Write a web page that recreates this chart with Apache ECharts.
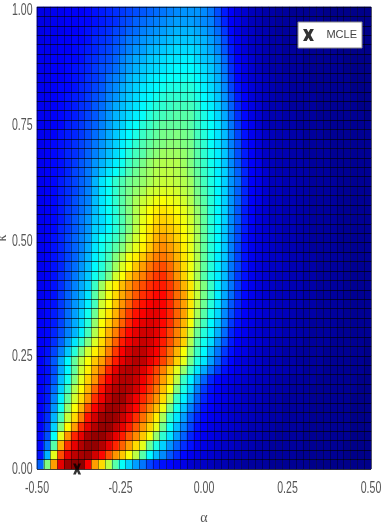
<!DOCTYPE html>
<html><head><meta charset="utf-8">
<style>html,body{margin:0;padding:0;background:#fff}#c{width:381px;height:523px}</style>
<script src="https://cdn.jsdelivr.net/npm/echarts@6/dist/echarts.min.js"></script>
</head><body><div id="c"></div>
<script>
const alphaRange = [-0.5, 0.5];
const kappaRange = [0, 1];
const alphaTicks = [-0.5, -0.25, 0, 0.25, 0.5];
const kappaTicks = [0, 0.25, 0.5, 0.75, 1];
const tickStep = 0.25;
const mcle = [[-0.38, 0]];
// likelihood surface, bottom row (kappa near 0) first; values 0-100
const surface = [
[22,50,72,90,97,99,99,88,72,66,56,46,38,33,28,24,19,16,14,13,11,10,8,7,7,6,5,5,4,4,3,3,3,3,2,2,2,2,2,2,1,1,1,1,1,1,1,1,1],
[14,30,60,80,90,94,96,97,92,87,80,73,68,62,56,46,37,31,26,21,17,13,11,10,9,8,7,6,6,5,5,4,4,4,3,3,3,3,2,2,2,2,2,2,2,1,1,1,1],
[13,24,46,70,83,90,95,98,98,95,90,84,78,72,66,60,48,40,33,27,22,17,14,11,10,9,8,7,7,6,5,5,4,4,3,3,3,3,3,2,2,2,2,2,2,1,1,1,1],
[13,20,38,60,73,84,90,96,98,98,95,90,85,79,74,68,62,52,42,35,28,22,16,13,11,10,9,8,7,6,6,5,5,4,4,3,3,3,3,2,2,2,2,2,2,2,1,1,1],
[12,18,33,50,63,72,83,90,95,98,98,94,90,85,79,73,67,60,48,38,31,25,19,14,12,10,9,8,8,7,6,5,5,4,4,3,3,3,3,2,2,2,2,2,2,2,1,1,1],
[12,17,30,44,57,66,75,86,92,97,98,97,93,89,83,77,71,64,54,42,35,28,21,16,13,11,10,9,8,7,6,6,5,5,4,4,3,3,3,3,2,2,2,2,2,2,1,1,1],
[12,16,27,39,52,62,70,80,88,93,97,97,95,91,87,81,75,69,61,49,39,32,25,19,14,12,10,9,8,7,7,6,5,5,4,4,3,3,3,3,2,2,2,2,2,2,1,1,1],
[12,15,25,36,47,58,66,73,83,89,94,97,97,93,89,84,79,73,66,56,43,36,29,22,16,13,11,10,9,8,7,6,6,5,4,4,3,3,3,3,2,2,2,2,2,2,1,1,1],
[12,15,23,33,43,55,63,70,78,86,92,95,96,95,92,87,82,76,69,62,50,40,33,25,18,14,12,10,9,8,7,7,6,5,5,4,4,3,3,3,2,2,2,2,2,2,2,1,1],
[12,14,21,31,39,50,60,67,73,82,88,93,95,95,93,89,84,79,72,66,56,43,36,29,22,16,13,11,10,9,8,7,6,6,5,4,4,3,3,3,3,2,2,2,2,2,2,1,1],
[12,14,20,29,37,47,58,64,71,76,84,90,94,95,94,91,86,81,75,68,60,52,43,35,29,23,18,14,12,10,9,8,7,6,6,5,5,4,4,3,3,3,2,2,2,2,2,2,1],
[12,15,21,29,37,47,56,62,68,72,79,85,90,93,95,94,90,86,81,75,67,60,49,40,35,28,22,16,13,10,9,8,7,6,5,5,4,4,3,3,3,3,2,2,2,2,2,2,1],
[12,14,19,25,32,41,50,58,64,68,75,82,88,92,94,94,91,88,83,77,70,62,52,43,37,30,24,18,14,11,10,8,7,6,6,5,4,4,3,3,3,3,2,2,2,2,2,2,1],
[12,13,17,22,28,35,42,50,59,66,72,78,85,89,91,93,92,89,85,80,74,67,55,45,39,34,27,21,15,12,10,9,8,7,6,5,5,4,4,3,3,3,3,2,2,2,2,2,1],
[12,13,16,20,25,30,36,44,55,64,70,75,82,87,90,92,92,90,86,81,75,68,58,48,41,36,30,23,16,13,11,9,8,7,7,6,5,5,4,4,3,3,3,3,2,2,2,2,2],
[12,13,15,19,24,29,34,41,52,62,67,72,78,84,88,90,91,90,87,83,77,70,62,51,44,37,32,25,18,14,11,10,8,7,7,6,5,5,4,4,3,3,3,3,2,2,2,2,2],
[11,13,15,18,23,28,33,39,48,60,65,70,76,82,86,88,90,90,88,84,78,72,64,54,46,39,34,26,20,15,12,10,9,8,7,6,6,5,4,4,4,3,3,3,3,2,2,2,2],
[11,13,14,18,22,27,31,36,44,58,62,68,73,78,83,86,88,89,88,84,78,72,65,56,48,41,35,28,21,16,12,10,9,8,7,6,6,5,5,4,4,3,3,3,3,2,2,2,2],
[11,12,14,18,22,26,30,35,46,55,61,66,71,75,79,83,85,87,87,83,77,72,65,57,49,43,36,29,23,17,13,11,9,8,7,6,6,5,5,4,4,3,3,3,3,2,2,2,2],
[11,12,14,17,21,25,29,33,43,53,60,64,69,73,77,80,83,85,85,82,77,70,65,57,50,43,36,30,24,18,13,11,9,8,7,6,6,5,5,4,4,3,3,3,3,2,2,2,2],
[11,12,14,17,20,24,28,32,39,43,49,58,62,68,72,75,79,82,83,79,73,67,61,54,46,40,36,31,24,18,14,11,9,8,7,6,6,5,5,4,4,3,3,3,3,2,2,2,2],
[11,12,14,16,20,23,27,31,37,41,46,53,59,63,68,72,76,79,80,77,72,66,61,55,47,41,36,31,24,19,14,11,9,8,7,7,6,5,5,4,4,3,3,3,3,2,2,2,2],
[11,12,14,16,19,22,26,30,36,40,44,50,55,61,64,68,72,75,76,74,70,65,61,55,47,41,36,32,25,19,14,11,9,8,7,7,6,5,5,4,4,3,3,3,3,2,2,2,2],
[11,12,14,16,19,22,25,29,35,39,42,46,50,56,60,64,68,72,74,72,69,64,60,54,47,41,37,32,25,19,14,11,9,8,7,6,5,5,4,4,3,3,3,3,2,2,2,2,2],
[11,12,14,16,19,22,25,28,34,38,40,43,47,53,58,62,66,70,72,70,67,63,60,54,47,41,37,32,25,20,14,11,9,8,7,6,5,5,4,4,3,3,3,3,2,2,2,2,2],
[11,12,13,16,18,21,24,27,33,34,37,41,45,50,56,61,65,68,69,68,66,62,59,54,47,41,37,32,26,20,15,11,9,8,7,6,5,5,4,4,3,3,3,3,2,2,2,2,2],
[11,12,13,15,18,21,24,27,32,34,37,41,45,50,55,60,63,66,67,66,64,61,58,53,47,41,37,33,26,21,15,12,9,8,6,6,5,5,4,4,3,3,3,3,2,2,2,2,2],
[11,12,13,15,18,20,23,26,31,35,38,41,46,50,55,59,62,64,65,64,62,60,57,52,47,41,37,33,27,21,15,12,9,8,6,6,5,5,4,4,3,3,3,3,2,2,2,2,2],
[11,12,13,15,17,20,23,25,31,35,38,42,46,50,54,57,59,61,62,61,60,58,55,50,46,41,37,33,27,22,16,12,10,8,6,6,5,5,4,4,3,3,3,3,2,2,2,2,2],
[11,12,13,15,17,19,22,25,30,35,38,42,46,49,52,54,57,58,59,59,58,56,54,49,45,41,37,33,27,22,16,12,10,8,6,6,5,5,4,4,3,3,3,3,2,2,2,2,2],
[11,12,13,15,17,19,22,24,30,35,38,42,45,48,50,52,54,56,57,57,56,55,53,48,44,40,37,33,27,23,16,12,10,8,6,6,5,5,4,4,3,3,3,3,2,2,2,2,2],
[11,12,13,14,16,19,21,24,28,32,35,38,41,45,48,51,53,55,56,56,55,54,51,47,43,40,36,33,27,22,16,12,10,8,6,5,5,4,4,4,3,3,3,2,2,2,2,2,2],
[11,12,13,14,16,18,21,23,27,30,33,36,39,43,46,49,52,54,55,55,55,53,50,46,43,39,36,32,26,21,15,12,10,7,6,5,5,4,4,4,3,3,3,2,2,2,2,2,2],
[11,12,13,14,16,17,19,22,25,28,31,34,37,41,44,46,49,51,53,53,53,52,50,46,42,39,36,32,26,20,15,12,9,7,6,5,5,4,4,3,3,3,3,2,2,2,2,2,2],
[11,12,13,14,15,17,19,21,24,27,30,33,36,39,42,45,47,49,50,51,51,50,49,45,42,38,35,31,25,20,14,12,9,7,6,5,5,4,4,3,3,3,3,2,2,2,2,2,2],
[11,11,12,14,15,16,18,20,23,26,29,32,35,37,40,43,45,47,49,49,50,49,48,44,41,38,35,31,25,19,14,11,9,7,6,5,5,4,4,3,3,3,2,2,2,2,2,2,2],
[11,11,12,13,15,16,18,20,22,25,28,31,33,36,38,41,43,45,47,47,47,47,46,43,40,38,35,30,24,18,13,11,8,6,5,5,4,4,3,3,3,3,2,2,2,2,2,2,2],
[11,11,12,13,14,15,17,19,21,24,27,30,32,34,36,38,41,43,44,45,46,46,46,43,40,37,34,29,23,17,13,10,8,6,5,5,4,4,3,3,3,2,2,2,2,2,2,2,1],
[11,11,12,13,14,15,17,18,21,23,26,29,31,33,35,37,39,41,42,43,44,44,44,42,38,36,33,28,22,16,12,10,8,6,5,5,4,3,3,3,3,2,2,2,2,2,2,1,1],
[11,11,12,13,14,15,16,18,20,22,25,27,30,32,34,36,37,39,41,42,42,42,42,40,37,35,32,27,21,15,12,9,7,6,5,4,4,3,3,3,3,2,2,2,2,2,2,1,1],
[11,11,12,13,13,14,16,17,19,21,24,26,29,31,33,35,36,37,39,40,40,41,41,39,36,34,31,26,19,14,11,9,7,6,5,4,4,3,3,3,2,2,2,2,2,2,1,1,1],
[11,11,12,12,13,14,15,17,18,20,23,25,27,30,32,33,35,36,37,38,38,39,39,37,35,33,30,25,18,13,10,8,7,6,5,4,4,3,3,3,2,2,2,2,2,2,1,1,1],
[11,11,12,12,13,14,15,16,18,20,21,23,26,28,30,32,33,34,35,36,37,37,37,36,34,32,29,24,17,13,10,8,6,5,4,4,3,3,3,2,2,2,2,2,2,1,1,1,1],
[11,11,12,12,13,13,14,16,17,19,20,22,25,27,29,30,32,33,34,35,35,36,36,34,32,31,28,23,16,12,10,8,6,5,4,4,3,3,3,2,2,2,2,2,2,1,1,1,1],
[11,11,11,12,12,13,14,15,16,18,19,21,23,25,27,28,30,31,32,33,34,34,34,33,31,29,26,21,15,11,9,7,6,5,4,4,3,3,3,2,2,2,2,2,1,1,1,1,1],
[10,11,11,12,12,13,13,14,16,17,18,20,22,24,25,27,28,29,30,31,32,32,32,31,30,28,25,20,14,11,9,7,6,5,4,4,3,3,2,2,2,2,2,1,1,1,1,1,1],
[10,11,11,11,12,12,13,14,15,16,17,19,20,22,23,25,26,27,28,29,30,30,30,29,28,26,23,18,13,10,8,7,5,5,4,3,3,3,2,2,2,2,2,1,1,1,1,1,1],
[10,10,11,11,12,12,13,13,14,15,16,17,19,20,22,23,24,25,26,27,28,28,28,27,26,25,21,16,12,10,8,6,5,4,4,3,3,3,2,2,2,2,1,1,1,1,1,1,1],
[10,10,11,11,12,12,12,13,14,15,16,17,18,19,20,21,22,23,24,25,26,27,27,27,26,24,20,15,12,9,8,6,5,4,4,3,3,2,2,2,2,2,1,1,1,1,1,1,1]
];
const jet = ['#000080','#0000ff','#0080ff','#00ffff','#80ff80','#ffff00','#ff8000','#ff0000','#800000'];

const cells = [];
surface.forEach((row, r) => row.forEach((v, c) => cells.push([c, r, v])));
const colIdx = surface[0].map((_, i) => i);
const rowIdx = surface.map((_, i) => i);
const font = '"Liberation Sans",sans-serif';
const xMark = 'path://M0,0 L3.4,0 L5,3 L6.6,0 L10,0 L7,5.5 L10,11 L6.6,11 L5,8 L3.4,11 L0,11 L3,5.5 Z';

const chart = echarts.init(document.getElementById('c'), null, {renderer:'canvas'});
chart.setOption({
  animation:false,
  grid:{left:37,top:7,width:334,height:462,outerBoundsMode:'none',show:true,borderColor:'#777',borderWidth:1,backgroundColor:'#fff'},
  xAxis:[
    {type:'category',data:colIdx,show:true,gridIndex:0,z:3,
     axisLine:{show:false},axisTick:{show:false},axisLabel:{show:false},
     splitLine:{show:true,interval:0,lineStyle:{color:'#000',width:1,opacity:0.4}}},
    {type:'value',min:alphaRange[0],max:alphaRange[1],interval:tickStep,position:'bottom',gridIndex:0,
     axisLine:{show:false},axisTick:{show:false},splitLine:{show:false},axisLabel:{show:false},
     name:'α',nameLocation:'middle',nameGap:42,nameTextStyle:{color:'#555',fontFamily:'"Liberation Serif",serif',fontSize:14}}
  ],
  yAxis:[
    {type:'category',data:rowIdx,show:true,gridIndex:0,z:3,
     axisLine:{show:false},axisTick:{show:false},axisLabel:{show:false},
     splitLine:{show:true,interval:0,lineStyle:{color:'#000',width:1,opacity:0.65}}},
    {type:'value',min:kappaRange[0],max:kappaRange[1],interval:tickStep,position:'left',gridIndex:0,
     axisLine:{show:false},axisTick:{show:false},splitLine:{show:false},axisLabel:{show:false},
     name:'κ',nameLocation:'middle',nameGap:28,nameTextStyle:{color:'#555',fontFamily:'"Liberation Serif",serif',fontSize:14}}
  ],
  visualMap:{show:false,min:0,max:100,seriesIndex:0,dimension:2,inRange:{color:jet}},
  legend:{left:298,top:22,orient:'vertical',data:['MCLE'],backgroundColor:'#fff',borderColor:'#888',borderWidth:1,
    padding:[7,5,7,5],itemWidth:26,itemHeight:12,itemGap:0,
    textStyle:{color:'#444',fontFamily:font,fontSize:11}},
  series:[
    {type:'heatmap',xAxisIndex:0,yAxisIndex:0,data:cells,progressive:0,emphasis:{disabled:true}},
    {type:'scatter',name:'MCLE',xAxisIndex:1,yAxisIndex:1,data:mcle,symbol:xMark,symbolSize:[8,11],clip:false,z:5,
     itemStyle:{color:'#000'}}
  ]
});
// condensed tick labels, placed through the axes' own scales
const labelStyle = (t,align)=>({text:t,fill:'#555',font:'16px "Liberation Sans"',align:align,verticalAlign:'middle'});
const tickText = [];
alphaTicks.forEach(v=>{
  tickText.push({type:'text',silent:true,x:chart.convertToPixel({xAxisIndex:1},v),y:489,scaleX:0.66,
    style:labelStyle(v.toFixed(2),'center')});
});
kappaTicks.forEach(v=>{
  const py = chart.convertToPixel({yAxisIndex:1},v);
  tickText.push({type:'text',silent:true,x:32.5,y:py+(v===0?1:3.5),scaleX:0.66,style:labelStyle(v.toFixed(2),'right')});
});
chart.setOption({graphic:tickText});
</script></body></html>
